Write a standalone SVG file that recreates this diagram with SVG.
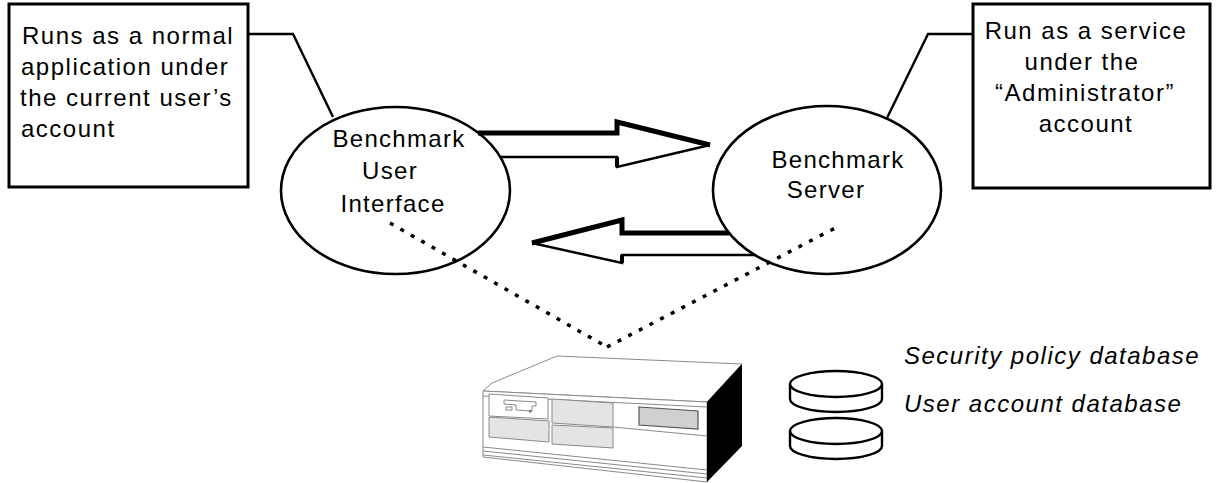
<svg xmlns="http://www.w3.org/2000/svg" width="1217" height="483" viewBox="0 0 1217 483">
  <style>
    .box { fill: #fff; stroke: #000; stroke-width: 3; }
    .oval { fill: none; stroke: #000; stroke-width: 2.6; }
    .lead { fill: none; stroke: #000; stroke-width: 2.4; }
    .boxtxt { font-family: "Liberation Sans", Arial, sans-serif; font-size: 24px; letter-spacing: 1.5px; fill: #000; }
    .ovaltxt { font-family: "Liberation Sans", Arial, sans-serif; font-size: 24px; letter-spacing: 1.3px; fill: #000; text-anchor: middle; }
    .dbtxt { font-family: "Liberation Sans", Arial, sans-serif; font-size: 24px; font-style: italic; letter-spacing: 1.5px; fill: #000; }
    .thick { fill: none; stroke: #000; stroke-width: 5; stroke-linejoin: miter; }
    .thin { fill: none; stroke: #000; stroke-width: 2.4; stroke-linejoin: miter; }
    .dots { fill: none; stroke: #000; stroke-width: 3.5; stroke-dasharray: 4 8; }
    .pc { stroke: #8a8a8a; stroke-width: 1; }
    .bay { fill: #e4e4e4; stroke: #8a8a8a; stroke-width: 1; }
    .cyl { fill: #fff; stroke: #000; stroke-width: 2.4; }
  </style>
  <rect width="1217" height="483" fill="#fff"/>

  <!-- call-out boxes -->
  <g id="note-ui">
    <rect class="box" x="9" y="4" width="239" height="183"/>
    <text class="boxtxt" x="22" y="44">Runs as a normal</text>
    <text class="boxtxt" x="21" y="75">application under</text>
    <text class="boxtxt" x="20" y="106">the current user’s</text>
    <text class="boxtxt" x="21" y="137">account</text>
    <polyline class="lead" points="248,34 293,34 333,117"/>
  </g>
  <g id="note-server">
    <rect class="box" x="973" y="4" width="237" height="184"/>
    <g class="boxtxt" text-anchor="middle">
      <text x="1086" y="39">Run as a service</text>
      <text x="1082" y="70">under the</text>
      <text x="1085" y="101">“Administrator”</text>
      <text x="1086" y="132">account</text>
    </g>
    <polyline class="lead" points="973,34 928,34 887,118"/>
  </g>

  <!-- request / reply arrows and links to the host -->
  <g id="connectors">
    <g id="arrow-request">
      <polyline class="thick" points="478,133 617,133 617,122 710,145"/>
      <polyline class="thin" points="710,145 617,167 617,157 500,157"/>
      <line x1="617" y1="157" x2="617" y2="167" stroke="#000" stroke-width="4"/>
    </g>
    <g id="arrow-reply">
      <polyline class="thick" points="729,233 622,233 622,220 532,243"/>
      <polyline class="thin" points="532,243 622,263 622,255 755,255"/>
      <line x1="622" y1="255" x2="622" y2="263" stroke="#000" stroke-width="4"/>
    </g>
    <polyline id="link-ui-host" class="dots" points="390,223 607,347"/>
    <polyline id="link-server-host" class="dots" points="607,347 837,227"/>
  </g>

  <!-- processes -->
  <g id="ui">
    <ellipse class="oval" cx="395.5" cy="190.5" rx="114.5" ry="83.5"/>
    <text class="ovaltxt" x="399" y="147">Benchmark</text>
    <text class="ovaltxt" x="390" y="179">User</text>
    <text class="ovaltxt" x="393" y="212">Interface</text>
  </g>
  <g id="server">
    <ellipse class="oval" cx="827" cy="190" rx="114" ry="84"/>
    <text class="ovaltxt" x="838" y="168">Benchmark</text>
    <text class="ovaltxt" x="826" y="198">Server</text>
  </g>

  <!-- host computer -->
  <g id="host">
    <polygon class="pc" fill="#fff" points="483,391 492,383 557,356 742,364 707,402"/>
    <polygon class="pc" fill="#fff" points="483,391 707,402 707,482 483,457"/>
    <line class="pc" x1="483" y1="396" x2="707" y2="407"/>
    <polygon fill="#000" points="707,402 742,364 742,446 707,482"/>
    <polygon class="pc" fill="#fff" points="489,394 548,398 548,419 489,416"/>
    <polygon class="bay" points="552,399 613,403 613,427 552,423"/>
    <polygon class="bay" points="489,417 549,421 549,442 489,437"/>
    <polygon class="bay" points="552,425 613,428 613,448 552,444"/>
    <polygon fill="#d0d0d0" stroke="#555" stroke-width="1.2" points="639,407 698,411 698,429 639,425"/>
    <line class="pc" x1="613" y1="427" x2="707" y2="436"/>
    <line class="pc" x1="483" y1="447" x2="707" y2="470"/>
    <line class="pc" x1="483" y1="451" x2="707" y2="474"/>
    <line class="pc" x1="483" y1="455" x2="707" y2="478"/>
    <!-- floppy slot -->
    <path class="pc" fill="#fff" d="M504,400 L536,402 L536,406 L532,406 L532,411 L516,410 L516,405 L504,404 Z"/>
    <rect class="pc" fill="#fff" x="506" y="407" width="6" height="3"/>
    <rect x="529" y="410" width="2.5" height="2.5" fill="#777"/>
  </g>

  <!-- databases -->
  <g id="db-security">
    <path class="cyl" d="M790,384 V399 A46,13 0 0 0 882,399 V384"/>
    <ellipse class="cyl" cx="836" cy="384" rx="46" ry="13"/>
    <text class="dbtxt" x="904" y="364">Security policy database</text>
  </g>
  <g id="db-users">
    <path class="cyl" d="M790,431 V446 A46,13 0 0 0 882,446 V431"/>
    <ellipse class="cyl" cx="836" cy="431" rx="46" ry="13"/>
    <text class="dbtxt" x="904" y="412">User account database</text>
  </g>
</svg>
